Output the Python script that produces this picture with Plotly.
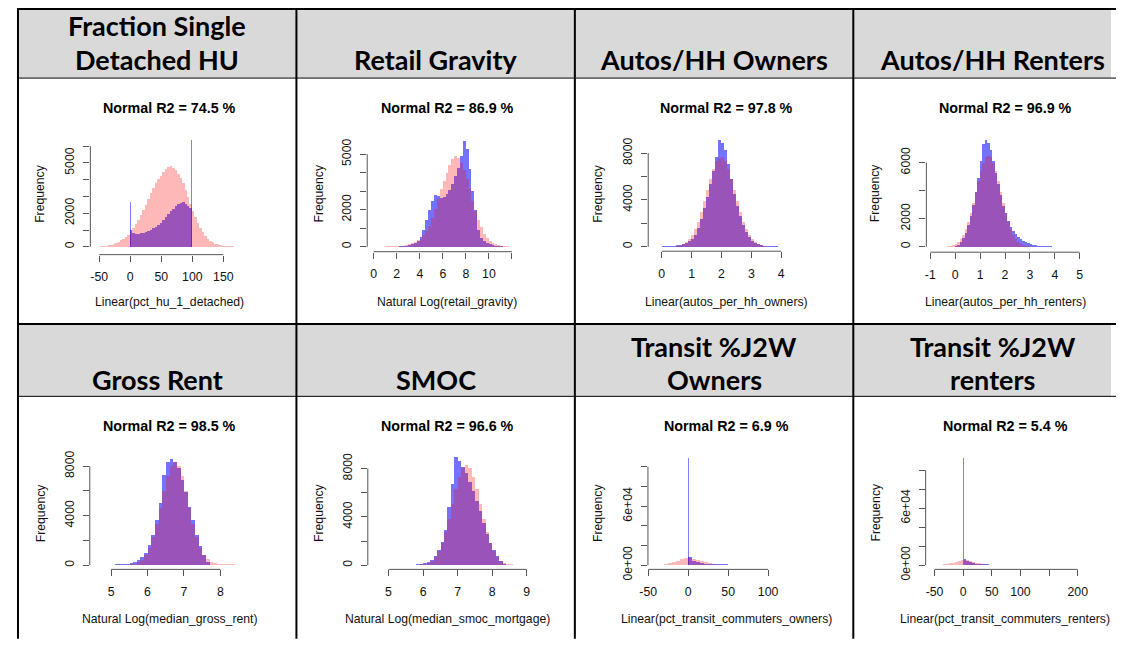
import plotly.graph_objects as go

# page is 1124x650; the browser body keeps an 8px margin, so the figure is 1108x634 at (8,8)
PAGE_W, PAGE_H = 1124, 650
OX, OY = 8, 8
W, H = PAGE_W - 2 * OX, PAGE_H - 2 * OY

# ---------------------------------------------------------------- data
header_row1 = ["Fraction Single\nDetached HU", "Retail Gravity", "Autos/HH Owners", "Autos/HH Renters"]
header_row2 = ["Gross Rent", "SMOC", "Transit %J2W\nOwners", "Transit %J2W\nrenters"]

r2_values = [74.5, 86.9, 97.8, 96.9, 98.5, 96.6, 6.9, 5.4]
x_titles = [
    "Linear(pct_hu_1_detached)",
    "Natural Log(retail_gravity)",
    "Linear(autos_per_hh_owners)",
    "Linear(autos_per_hh_renters)",
    "Natural Log(median_gross_rent)",
    "Natural Log(median_smoc_mortgage)",
    "Linear(pct_transit_commuters_owners)",
    "Linear(pct_transit_commuters_renters)",
]

# --- Fraction single detached HU (linear)
hu_fit_start, hu_fit_width = -56, 4
hu_fit = [10, 15, 25, 40, 60, 90, 130, 180, 240, 310,
          390, 480, 580, 700, 900, 1130, 1350, 1620, 1900, 2200,
          2500, 2850, 3200, 3500, 3800, 4050, 4250, 4450, 4620, 4760,
          4800, 4700, 4560, 4350, 4100, 3800, 3400, 3000, 2550, 2150,
          1800, 1450, 1150, 900, 680, 500, 370, 270, 200, 150,
          110, 80, 60, 45, 35, 25, 18, 12, 8, 5]
hu_obs_start, hu_obs_width = 0, 4
hu_obs = [1000, 850, 780, 780, 800, 830, 870, 920, 1000, 1100,
          1200, 1330, 1450, 1600, 1780, 1950, 2120, 2280, 2420, 2560,
          2640, 2660, 2580, 2450, 2300]
hu_spike_x = [0.5, 99.5]
hu_spike_y = [2650, 6400]

# --- Retail gravity (log)
rg_fit_start, rg_fit_width = 0, 0.25
rg_fit = [15, 15, 18, 20, 22, 25, 28, 32, 38, 45,
          60, 90, 140, 200, 270, 350, 450, 620, 850, 1150,
          1550, 2050, 2600, 3100, 3550, 4000, 4400, 4750, 4900, 4800,
          4550, 4150, 3650, 3100, 2500, 1950, 1450, 1050, 720, 480,
          320, 210, 140, 90, 60, 40, 28, 20, 14, 10, 6]
rg_obs_start, rg_obs_width = 0, 0.25
rg_obs = [5, 5, 5, 5, 5, 6, 6, 8,
          15, 25, 40, 70, 110, 160, 230, 330,
          520, 900, 1450, 2000, 2500, 2800, 2720, 2650,
          2700, 2850, 3050, 3400, 3800, 4250, 4900, 5700,
          5300, 4200, 3000, 2000, 900, 500, 320, 220,
          150, 100, 70, 45, 30, 20, 12, 8]
rg_spike_x = []
rg_spike_y = []

# --- Autos per HH owners
ao_fit_start, ao_fit_width = -0.3, 0.1
ao_fit = [5, 6, 8, 10, 12, 14, 20, 34, 66, 125,
          225, 385, 640, 1000, 1500, 2160, 2960, 3880, 4870, 5840,
          6680, 7300, 7600, 7720, 7300, 6680, 5840, 4870, 3880, 2960,
          2160, 1500, 1000, 640, 385, 225, 125, 66, 34, 20,
          12, 8, 5, 4, 3, 2, 2, 1, 1, 1]
ao_obs_start, ao_obs_width = -0.3, 0.1
ao_obs = [10, 15, 25, 40, 60, 75, 90, 110, 140, 180,
          240, 330, 480, 700, 1050, 1600, 2350, 3300, 4300, 5400,
          6500, 7700, 9100, 8900, 8300, 7100, 5800, 4500, 3500, 2600,
          1850, 1250, 820, 530, 340, 230, 160, 115, 85, 65,
          50, 40, 32, 25, 20, 16, 12, 9, 7, 5]
ao_spike_x = []
ao_spike_y = []

# --- Autos per HH renters
ar_fit_start, ar_fit_width = -1.0, 0.1
ar_fit = [2, 3, 5, 8, 12, 18, 25, 40, 70, 130,
          220, 365, 580, 880, 1290, 1810, 2440, 3160, 3940, 4720,
          5430, 6000, 6370, 6500, 6370, 6000, 5430, 4720, 3940, 3160,
          2440, 1810, 1290, 880, 580, 365, 220, 130, 70, 40,
          25, 18, 12, 8, 5, 3, 2, 2, 1, 1]
ar_obs_start, ar_obs_width = 0.0, 0.1
ar_obs = [60, 150, 330, 600, 1000, 1550, 2200, 3000, 3900, 4900,
          6150, 7300, 7640, 7400, 6900, 6100, 5300, 4500, 3700, 2950,
          2400, 1850, 1450, 1150, 900, 700, 540, 420, 330, 250,
          190, 150, 120, 95, 75, 60, 48, 38, 30, 25,
          20, 16, 13, 10, 8, 7, 6, 5, 4, 3]
ar_spike_x = [0.97]
ar_spike_y = [7080]

# --- Median gross rent (log)
gr_fit_start, gr_fit_width = 4.5, 0.1
gr_fit = [0, 0, 0, 1, 1, 2, 3, 4, 7, 17,
          42, 100, 215, 430, 800, 1390, 2230, 3330, 4630, 5970,
          7170, 8000, 8300, 8000, 7170, 5970, 4630, 3330, 2230, 1390,
          800, 450, 260, 160, 110, 80, 60, 45, 35, 25,
          15, 10]
gr_obs_start, gr_obs_width = 4.5, 0.1
gr_obs = [20, 15, 15, 20, 25, 30, 40, 55, 75, 110,
          170, 260, 400, 650, 1000, 1600, 2400, 3600, 5000, 7300,
          8300, 8600, 8300, 7800, 6900, 5900, 4700, 3600, 2400, 1500,
          800, 250, 0, 0, 0, 0, 0, 0, 0, 0,
          0, 0]
gr_spike_x = []
gr_spike_y = []

# --- Median SMOC mortgage (log)
sm_fit_start, sm_fit_width = 4.5, 0.1
sm_fit = [0, 0, 0, 0, 0, 0, 0, 0, 0, 1,
          2, 3, 8, 18, 42, 92, 190, 365, 660, 1120,
          1800, 2690, 3800, 5030, 6270, 7320, 8040, 8300, 8040, 7320,
          6270, 5030, 3800, 2690, 1800, 1120, 660, 365, 190, 92,
          42, 18, 8, 3, 2]
sm_obs_start, sm_obs_width = 4.5, 0.1
sm_obs = [10, 10, 10, 10, 10, 10, 10, 10, 10, 10,
          15, 20, 30, 50, 80, 140, 250, 420, 750, 1250,
          1900, 2900, 4800, 6700, 8900, 8600, 8100, 7600, 6900, 6100,
          5300, 4500, 3500, 2600, 1800, 1200, 750, 350, 100, 0,
          0, 0, 0, 0, 0]
sm_spike_x = []
sm_spike_y = []

# --- Transit % J2W owners
to_fit_start, to_fit_width = -50, 5
to_fit = [30, 85, 220, 500, 1010, 1840, 3000, 4390, 5720, 6690,
          7000, 6540, 5470, 4100, 2750, 1650, 880, 425, 182, 70, 25]
to_obs_start, to_obs_width = 0, 5
to_obs = [8500, 4500, 2600, 1600, 1100, 850, 700, 620, 560, 520,
          490, 460, 440, 420, 400, 390, 380, 370, 360, 350,
          340, 330, 320, 310, 300, 290, 280, 270]
to_spike_x = [0.5]
to_spike_y = [109000]

# --- Transit % J2W renters
tr_fit_start, tr_fit_width = -60, 5
tr_fit = [10, 28, 68, 157, 325, 625, 1095, 1765, 2610, 3520,
          4375, 4980, 5200, 4980, 4375, 3520, 2610, 1765, 1095, 625,
          325, 157, 68, 28, 10]
tr_obs_start, tr_obs_width = 0, 5
tr_obs = [6500, 4200, 2800, 1900, 1300, 950, 750, 620, 540, 490,
          450, 420, 400, 380, 360, 350, 340, 330, 320, 310,
          300, 290, 280, 270, 260, 250, 240, 230, 220, 210,
          200, 190, 180, 170, 160, 150, 140, 130, 120, 110, 100]
tr_spike_x = [0.5]
tr_spike_y = [113000]

# tick values / labels (R drops overlapping labels)
x_ticks = [[-50, 0, 50, 100, 150], [0, 2, 4, 6, 8, 10, 12], [0, 1, 2, 3, 4], [-1, 0, 1, 2, 3, 4, 5],
           [5, 6, 7, 8], [5, 6, 7, 8, 9], [-50, 0, 50, 100], [-50, 0, 50, 100, 150, 200]]
x_tick_text = [["-50", "0", "50", "100", "150"], ["0", "2", "4", "6", "8", "10", ""],
               ["0", "1", "2", "3", "4"], ["-1", "0", "1", "2", "3", "4", "5"],
               ["5", "6", "7", "8"], ["5", "6", "7", "8", "9"], ["-50", "0", "50", "100"],
               ["-50", "0", "50", "100", "", "200"]]
y_ticks = [[0, 1000, 2000, 3000, 4000, 5000, 6000], [0, 1000, 2000, 3000, 4000, 5000],
           [0, 2000, 4000, 6000, 8000], [0, 2000, 4000, 6000],
           [0, 2000, 4000, 6000, 8000], [0, 2000, 4000, 6000, 8000],
           [0, 20000, 40000, 60000, 80000, 100000], [0, 20000, 40000, 60000, 80000, 100000]]
y_tick_text = [["0", "", "2000", "", "", "5000", ""], ["0", "", "2000", "", "", "5000"],
               ["0", "", "4000", "", "8000"], ["0", "2000", "", "6000"],
               ["0", "", "4000", "", "8000"], ["0", "", "4000", "", "8000"],
               ["0e+00", "", "", "6e+04", "", ""], ["0e+00", "", "", "6e+04", "", ""]]

# -------------------------------------------------------------- layout (page pixels)
boxes = [
    (82.3, 130, 243, 259.0), (362.7, 130, 520, 256.0), (647.3, 130, 803, 255.5), (929.0, 130, 1089, 256.5),
    (81.7, 455, 237, 579.3), (363.3, 455, 528, 579.3), (647.0, 460, 802, 579.3), (928.3, 460, 1088, 579.3),
]
x_cal = [(-50, 91.3, 150, 217.0), (0, 369.3, 12, 509.3), (0, 661.0, 4, 782.0), (-1, 933.0, 5, 1084.3),
         (5, 103.3, 8, 214.0), (5, 384.3, 9, 524.3), (-50, 647.3, 100, 768.7), (-50, 937.3, 200, 1082.3)]
y_cal = [(0, 251.0, 5000, 165.7), (0, 251.0, 5000, 156.7), (0, 251.0, 8000, 155.7), (0, 251.0, 6000, 165.3),
         (0, 575.0, 8000, 474.3), (0, 575.0, 8000, 476.7), (0, 575.0, 60000, 515.0), (0, 575.0, 60000, 517.0)]
title_pos = [(162.5, 109.3), (444, 109.3), (726.7, 109.3), (1009.5, 109.3),
             (162.5, 433.3), (444, 433.3), (726.7, 433.3), (1008.7, 433.3)]
xlab_pos = [(162.3, 306.7), (443.7, 306.7), (726.2, 306.7), (1009, 306.7),
            (162, 630), (444.5, 630), (726.2, 630), (1009, 630)]
ylab_pos = [(31.7, 196.7), (314, 196.7), (596.7, 196.7), (877.7, 196.7),
            (31.7, 521.7), (314, 521.7), (596.7, 521.7), (877.7, 521.7)]

hist_sets = [
    (hu_fit_start, hu_fit_width, hu_fit, hu_obs_start, hu_obs_width, hu_obs, hu_spike_x, hu_spike_y, 1.5),
    (rg_fit_start, rg_fit_width, rg_fit, rg_obs_start, rg_obs_width, rg_obs, rg_spike_x, rg_spike_y, 0.05),
    (ao_fit_start, ao_fit_width, ao_fit, ao_obs_start, ao_obs_width, ao_obs, ao_spike_x, ao_spike_y, 0.02),
    (ar_fit_start, ar_fit_width, ar_fit, ar_obs_start, ar_obs_width, ar_obs, ar_spike_x, ar_spike_y, 0.03),
    (gr_fit_start, gr_fit_width, gr_fit, gr_obs_start, gr_obs_width, gr_obs, gr_spike_x, gr_spike_y, 0.02),
    (sm_fit_start, sm_fit_width, sm_fit, sm_obs_start, sm_obs_width, sm_obs, sm_spike_x, sm_spike_y, 0.02),
    (to_fit_start, to_fit_width, to_fit, to_obs_start, to_obs_width, to_obs, to_spike_x, to_spike_y, 1.6),
    (tr_fit_start, tr_fit_width, tr_fit, tr_obs_start, tr_obs_width, tr_obs, tr_spike_x, tr_spike_y, 2.2),
]

PINK = "rgba(255,0,0,0.28)"
BLUE = "rgba(0,0,255,0.55)"
SPIKE = "rgba(0,0,255,0.5)"
RFONT = "Liberation Sans, Arial, sans-serif"
HFONT = "Lato, Carlito, sans-serif"
AXC = "#555555"


def centers(start, width, counts):
    return [start + width * (k + 0.5) for k in range(len(counts))]


def lin(cal, p):
    va, pa, vb, pb = cal
    return va + (p - pa) * (vb - va) / (pb - pa)


def px(X):
    return (X - OX) / W


def py(Y):
    return 1 - (Y - OY) / H


fig = go.Figure()
shapes = []
annotations = []
layout_axes = {}

for i in range(8):
    n = i + 1
    xa = "x" if n == 1 else f"x{n}"
    ya = "y" if n == 1 else f"y{n}"
    fs, fw, fc, os_, ow, oc, sx, sy, sw = hist_sets[i]
    # observed (blue) drawn first, fitted normal (pink) on top
    fig.add_trace(go.Bar(x=centers(os_, ow, oc), y=oc, width=ow, marker=dict(color=BLUE, line=dict(width=0)),
                         xaxis=xa, yaxis=ya, hoverinfo="skip", showlegend=False))
    if sx:
        fig.add_trace(go.Bar(x=sx, y=sy, width=sw, marker=dict(color=SPIKE, line=dict(width=0)),
                             xaxis=xa, yaxis=ya, hoverinfo="skip", showlegend=False))
    fig.add_trace(go.Bar(x=centers(fs, fw, fc), y=fc, width=fw, marker=dict(color=PINK, line=dict(width=0)),
                         xaxis=xa, yaxis=ya, hoverinfo="skip", showlegend=False))

    L, T, R, B = boxes[i]
    xr = [lin(x_cal[i], L), lin(x_cal[i], R)]
    yr = [lin(y_cal[i], B), lin(y_cal[i], T)]
    xkey = "xaxis" if n == 1 else f"xaxis{n}"
    ykey = "yaxis" if n == 1 else f"yaxis{n}"
    layout_axes[xkey] = dict(
        domain=[px(L), px(R)], range=xr, anchor=ya, showgrid=False, zeroline=False, showline=False,
        ticks="outside", ticklen=6, tickwidth=1, tickcolor=AXC,
        tickvals=x_ticks[i], ticktext=x_tick_text[i], tickangle=0,
        tickfont=dict(family=RFONT, size=12.3, color="#111"), ticklabelstandoff=5, fixedrange=True,
    )
    layout_axes[ykey] = dict(
        domain=[py(B), py(T)], range=yr, anchor=xa, showgrid=False, zeroline=False, showline=False,
        ticks="outside", ticklen=6, tickwidth=1, tickcolor=AXC,
        tickvals=y_ticks[i], ticktext=y_tick_text[i], tickangle=-90,
        tickfont=dict(family=RFONT, size=12.3, color="#111"), ticklabelstandoff=4, fixedrange=True,
    )
    # R-style axis lines: only from first to last tick
    shapes.append(dict(type="line", xref=xa, yref=f"{ya} domain", x0=x_ticks[i][0], x1=x_ticks[i][-1],
                       y0=0, y1=0, line=dict(color=AXC, width=1)))
    shapes.append(dict(type="line", xref=f"{xa} domain", yref=ya, x0=0, x1=0, y0=y_ticks[i][0],
                       y1=y_ticks[i][-1], line=dict(color=AXC, width=1)))

    tx, ty = title_pos[i]
    annotations.append(dict(text=f"<b>Normal R2 = {r2_values[i]} %</b>", x=px(tx), y=py(ty),
                            xref="paper", yref="paper", showarrow=False, xanchor="center", yanchor="middle",
                            font=dict(family=RFONT, size=14.3, color="#000")))
    lx, ly = xlab_pos[i]
    annotations.append(dict(text=x_titles[i], x=px(lx), y=py(ly), xref="paper", yref="paper",
                            showarrow=False, xanchor="center", yanchor="middle",
                            font=dict(family=RFONT, size=12.2, color="#111")))
    fx, fy = ylab_pos[i]
    annotations.append(dict(text="Frequency", x=px(fx), y=py(fy), xref="paper", yref="paper",
                            showarrow=False, xanchor="center", yanchor="middle", textangle=-90,
                            font=dict(family=RFONT, size=12.2, color="#111")))

# ------------------------------------------------------------ table frame
col_edges = [9, 291, 573, 855]
col_text_x = [150, 432, 714, 996]
row1_header = (9, 79)
row2_header = (330, 403)


def page_line(x0, y0, x1, y1, w):
    return dict(type="line", xref="paper", yref="paper", x0=px(x0), x1=px(x1), y0=py(y0), y1=py(y1),
                line=dict(color="#000", width=w), layer="above")


for (t, b) in (row1_header, row2_header):
    shapes.append(dict(type="rect", xref="paper", yref="paper", x0=px(9), x1=1, y0=py(b), y1=py(t),
                       fillcolor="#d9d9d9", line=dict(width=0), layer="below"))
shapes.append(page_line(8, 9, PAGE_W, 9, 2))
shapes.append(page_line(8, 79.3, PAGE_W, 79.3, 1))
shapes.append(page_line(8, 329.5, PAGE_W, 329.5, 2))
shapes.append(page_line(8, 403.2, PAGE_W, 403.2, 1))
for cx in col_edges:
    shapes.append(page_line(cx, 8, cx, PAGE_H, 2))


def header_ann(label, cx, bottom_line_y):
    lines = label.split("\n")
    out = []
    for k, ln in enumerate(reversed(lines)):
        cy = bottom_line_y - 34 * k
        out.append(dict(text=f"<b>{ln}</b>", x=px(cx), y=py(cy), xref="paper", yref="paper",
                        showarrow=False, xanchor="center", yanchor="middle",
                        font=dict(family=HFONT, size=27, color="#000")))
    return out


for j, lab in enumerate(header_row1):
    annotations += header_ann(lab, col_text_x[j], 60)
for j, lab in enumerate(header_row2):
    annotations += header_ann(lab, col_text_x[j], 386)

fig.update_layout(
    width=W, height=H, autosize=False, margin=dict(l=0, r=0, t=0, b=0),
    paper_bgcolor="white", plot_bgcolor="rgba(0,0,0,0)", barmode="overlay", bargap=0,
    shapes=shapes, annotations=annotations, showlegend=False, **layout_axes,
)

fig.write_html("out.html", config={"displayModeBar": False},
               post_script="document.body.style.margin='8px';")
